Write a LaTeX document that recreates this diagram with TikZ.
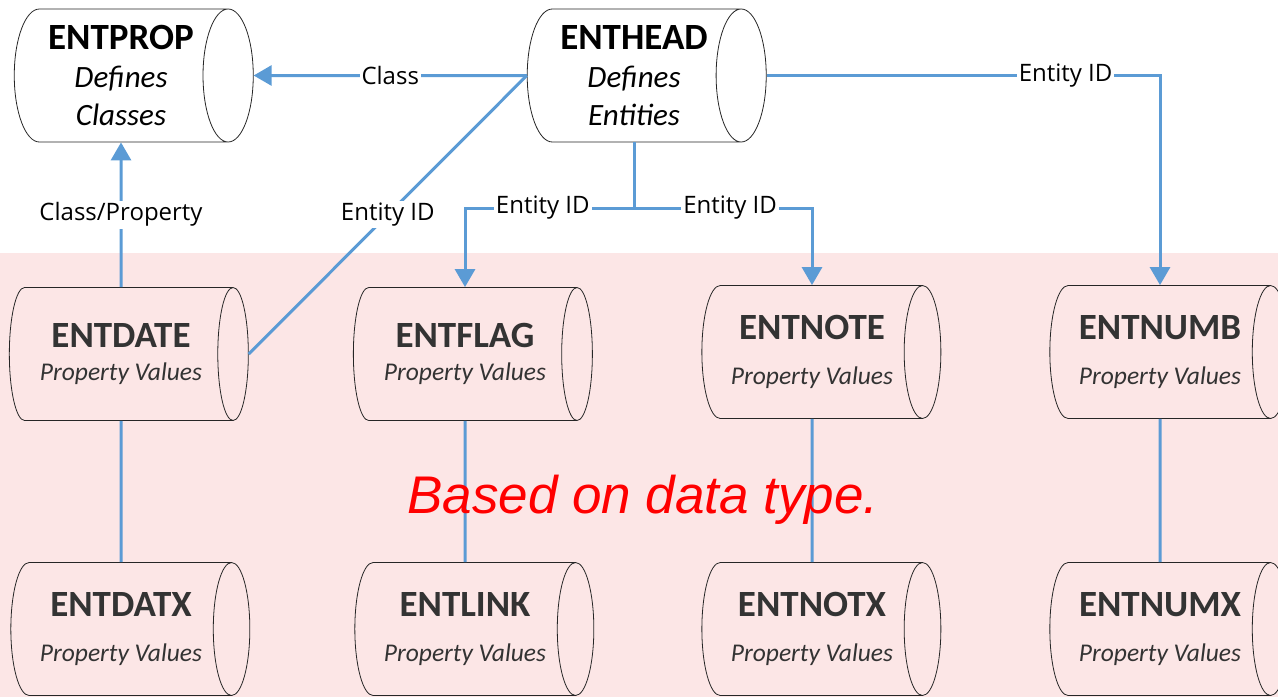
\documentclass[tikz,border=0pt]{standalone}
\usepackage{fontspec}
\setmainfont{Carlito}
\newfontfamily\labelfont{Open Sans}
\newfontfamily\notefont{Liberation Sans}
\usepackage{tikz}
\usetikzlibrary{arrows.meta,shapes.geometric}
\definecolor{linkblue}{RGB}{91,155,213}
\definecolor{zonepink}{RGB}{252,230,230}
\newcommand{\tblname}[1]{{\bfseries\fontsize{37}{38}\selectfont #1}}
\newcommand{\tblsub}[1]{{\itshape\fontsize{25.5}{30}\selectfont #1}}

\begin{document}
\begin{tikzpicture}[x=1pt,y=-1pt,>={Triangle[width=20pt,length=18pt]},
      link/.style={draw=linkblue,line width=3pt},
      table node/.style={cylinder,draw=black!85,line width=0.8pt,aspect=0.5,
        minimum height=239pt,minimum width=133pt,align=center,inner sep=0pt},
      top node/.style={table node,fill=white,text=black,
        font=\itshape\fontsize{31}{38}\selectfont},
      low node/.style={table node,text=black!80,font=\fontsize{25.5}{33}\selectfont},
      lbl/.style={fill=white,font=\labelfont\fontsize{24}{26}\selectfont,inner sep=2pt}]

      \useasboundingbox (0,0) rectangle (1278,697);
      \fill[zonepink] (0,253) rectangle (1278,697);

      % master tables
      \node[top node] (prop) at (121,75.5) {{\upshape\tblname{ENTPROP}}\\Defines\\Classes};
      \node[top node] (head) at (634,75.5) {{\upshape\tblname{ENTHEAD}}\\Defines\\Entities};

      % property value tables
      \node[low node] (date) at (121,354) {\tblname{ENTDATE}\\\tblsub{Property Values}};
      \node[low node] (flag) at (465,354) {\tblname{ENTFLAG}\\\tblsub{Property Values}};
      \node[low node] (note) at (812,352) {\tblname{ENTNOTE}\\[12pt]\tblsub{Property Values}};
      \node[low node] (numb) at (1160,352) {\tblname{ENTNUMB}\\[12pt]\tblsub{Property Values}};
      \node[low node] (datx) at (121,629) {\tblname{ENTDATX}\\[12pt]\tblsub{Property Values}};
      \node[low node] (link) at (465,629) {\tblname{ENTLINK}\\[12pt]\tblsub{Property Values}};
      \node[low node] (notx) at (812,629) {\tblname{ENTNOTX}\\[12pt]\tblsub{Property Values}};
      \node[low node] (numx) at (1160,629) {\tblname{ENTNUMX}\\[12pt]\tblsub{Property Values}};

      \coordinate (split) at (head.south |- 0,208);

      \draw[link] (date) -- (datx);
      \draw[link] (flag) -- (link);
      \draw[link] (note) -- (notx);
      \draw[link] (numb) -- (numx);

      \draw[link,->] (head.west) -- node[lbl] {Class} (prop.east);
      \draw[link,->] (date.north) -- node[lbl] {Class/Property} (prop.south);
      \draw[link] (head.west) -- node[lbl] {Entity ID} (date.east);
      \draw[link] (head.south) -- (split);
      \draw[link,->] (split) -| node[lbl,pos=0.27] {Entity ID} (flag.north);
      \draw[link,->] (split) -| node[lbl,pos=0.27] {Entity ID} (note.north);
      \draw[link,->] (head.east) -| node[lbl,pos=0.38] {Entity ID} (numb.north);

      \node[text=red,font=\notefont\itshape\fontsize{53}{60}\selectfont] (type) at (643,500) {Based on data type.};
    \end{tikzpicture}
\end{document}
